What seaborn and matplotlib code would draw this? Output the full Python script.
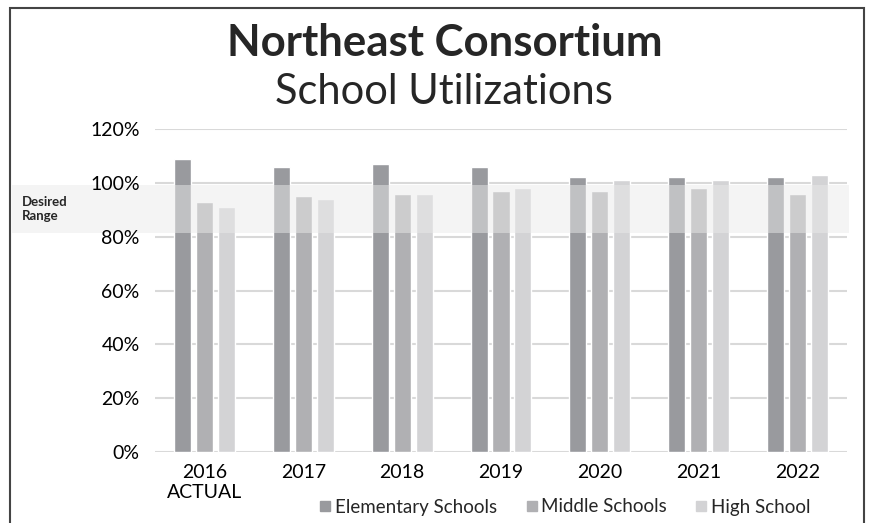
import pandas as pd
import matplotlib
matplotlib.use("Agg")
import matplotlib.pyplot as plt
import matplotlib.transforms as mtransforms
from matplotlib.patches import Rectangle
import seaborn as sns

# ------------------------------
# Data
# ------------------------------
years = ["2016\nACTUAL", "2017", "2018", "2019", "2020", "2021", "2022"]
elementary = [109, 106, 107, 106, 102, 102, 102]
middle = [93, 95, 96, 97, 97, 98, 96]
high = [91, 94, 96, 98, 101, 101, 103]
series_names = ["Elementary Schools", "Middle Schools", "High School"]
series_colors = ["#999a9e", "#b0b0b3", "#d3d3d5"]
yticks = [0, 20, 40, 60, 80, 100, 120]
desired_low, desired_high = 81.5, 99.3

df = pd.DataFrame({
    "year": years * 3,
    "value": elementary + middle + high,
    "school": [s for s in series_names for _ in years],
})

sns.set_style("white")
plt.rcParams["font.family"] = ["Lato", "DejaVu Sans"]

fig = plt.figure(figsize=(8.69, 5.23), dpi=100)
ax = fig.add_axes([155 / 869, 1 - 452 / 523, 692 / 869, 323 / 523])

sns.barplot(data=df, x="year", y="value", hue="school", order=years,
            hue_order=series_names, palette=series_colors,
            width=0.666, gap=0.225, saturation=1, ax=ax, legend=False,
            zorder=2)

# gridlines behind the bars
for t in yticks:
    ax.axhline(t, color="#d9d9d9", lw=1.5, zorder=0.5)

ax.set_xlim(-0.5, len(years) - 0.5)
ax.set_ylim(0, 120)
ax.set_yticks(yticks)
ax.set_yticklabels([f"{t}%" for t in yticks])
ax.tick_params(axis="y", length=0, pad=11, labelsize=14, labelcolor="black")
ax.tick_params(axis="x", length=0, pad=9, labelsize=14, labelcolor="black")
ax.set_xlabel("")
ax.set_ylabel("")
for s in ax.spines.values():
    s.set_visible(False)
ax.yaxis.set_zorder(5)
ax.xaxis.set_zorder(5)

# desired range band over the bars, running out to the frame
trans = mtransforms.blended_transform_factory(fig.transFigure, ax.transData)
band = Rectangle((12 / 869, desired_low), (849 - 12) / 869,
                 desired_high - desired_low, transform=trans,
                 facecolor="#eaeaea", alpha=0.49, edgecolor="none",
                 zorder=3, clip_on=False)
ax.add_patch(band)
fig.text(22 / 869, 1 - 209 / 523, "Desired\nRange", fontsize=9.5,
         fontweight="bold", va="center", ha="left", linespacing=1.15)

# titles
fig.text(0.512, 1 - 43 / 523, "Northeast Consortium", fontsize=31.5,
         fontweight="bold", ha="center", va="center")
fig.text(0.511, 1 - 92 / 523, "School Utilizations", fontsize=30,
         ha="center", va="center")

# legend
handles = [plt.Line2D([], [], marker="s", ls="", color=c, markersize=7.5)
           for c in series_colors]
fig.legend(handles, series_names, loc="center", ncol=3,
           bbox_to_anchor=(0.648, 1 - 507 / 523), frameon=False,
           fontsize=13.5, handletextpad=0.0, columnspacing=1.35,
           handlelength=1.0)

# outer frame
frame = Rectangle((10 / 869, -0.05), (864 - 10) / 869, 1 - 7.5 / 523 + 0.05,
                  transform=fig.transFigure, fill=False, edgecolor="#444444",
                  lw=1.5, clip_on=False)
fig.patches.append(frame)

fig.savefig("out.png", dpi=100)
